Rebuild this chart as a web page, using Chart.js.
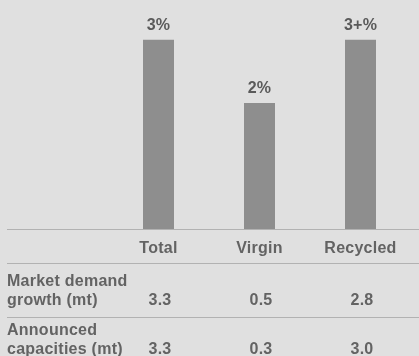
<!DOCTYPE html>
<html>
<head>
<meta charset="utf-8">
<script src="https://cdn.jsdelivr.net/npm/chart.js@4/dist/chart.umd.min.js"></script>
<style>
  html, body { margin: 0; padding: 0; background: #e0e0e0; }
  #wrap { width: 419px; height: 356px; }
</style>
</head>
<body>
<div id="wrap"><canvas id="c" width="419" height="356"></canvas></div>
<script>
// Categories and annual growth rates (%)
const categories = ['Total', 'Virgin', 'Recycled'];
const growthRates = [3, 2, 3];
const growthLabels = ['3%', '2%', '3+%'];

// Table rows below the chart (million tonnes)
const rowTitles = [['Market demand', 'growth (mt)'], ['Announced', 'capacities (mt)']];
const demandGrowth = [3.3, 0.5, 2.8];
const announcedCapacities = [3.3, 0.3, 3.0];
const tableRows = [demandGrowth, announcedCapacities];

const FONT = '"Liberation Sans", Arial, Helvetica, sans-serif';
const TEXT = '#636363';
const RULE = '#b2b2b2';

const tablePlugin = {
  id: 'growthTable',
  beforeDraw(chart) {
    // slightly open tracking for all text on the canvas
    chart.ctx.letterSpacing = '0.25px';
  },
  afterDatasetsDraw(chart) {
    const ctx = chart.ctx;
    const xs = chart.scales.x;
    const area = chart.chartArea;
    const meta = chart.getDatasetMeta(0);

    ctx.save();
    // value labels above the bars
    ctx.fillStyle = '#5a5a5a';
    ctx.font = 'bold 16px ' + FONT;
    ctx.textAlign = 'center';
    ctx.textBaseline = 'middle';
    meta.data.forEach((bar, i) => {
      ctx.fillText(growthLabels[i], bar.x, bar.y - 14);
    });

    // horizontal rules
    ctx.strokeStyle = RULE;
    ctx.lineWidth = 1.2;
    [area.bottom, 263, 317].forEach(y => {
      ctx.beginPath();
      ctx.moveTo(7, y + 0.5);
      ctx.lineTo(chart.width, y + 0.5);
      ctx.stroke();
    });

    // table rows
    ctx.fillStyle = TEXT;
    ctx.font = 'bold 16px ' + FONT;
    const rowTops = [282, 331];
    tableRows.forEach((vals, r) => {
      const y1 = rowTops[r];
      const y2 = y1 + 19;
      ctx.textAlign = 'left';
      ctx.fillText(rowTitles[r][0], 7, y1);
      ctx.fillText(rowTitles[r][1], 7, y2);
      ctx.textAlign = 'center';
      vals.forEach((v, i) => {
        ctx.fillText(v.toFixed(1), xs.getPixelForValue(i) + 1.5, y2);
      });
    });
    ctx.restore();
  }
};

new Chart(document.getElementById('c'), {
  type: 'bar',
  data: {
    labels: categories,
    datasets: [{
      data: growthRates,
      backgroundColor: '#8e8e8e',
      borderWidth: 0,
      categoryPercentage: 1,
      barPercentage: 0.307
    }]
  },
  options: {
    responsive: false,
    animation: false,
    events: [],
    layout: { padding: { left: 108, right: 8, top: 2, bottom: 0 } },
    plugins: { legend: { display: false }, tooltip: { enabled: false } },
    scales: {
      y: { display: false, min: 0, max: 3.6 },
      x: {
        grid: { display: false, drawTicks: false },
        border: { display: false },
        ticks: {
          color: TEXT,
          font: { family: FONT, size: 16, weight: 'bold' },
          padding: 10,
          maxRotation: 0,
          autoSkip: false
        },
        afterFit(scale) { scale.height = 127; }
      }
    }
  },
  plugins: [tablePlugin]
});
</script>
</body>
</html>
